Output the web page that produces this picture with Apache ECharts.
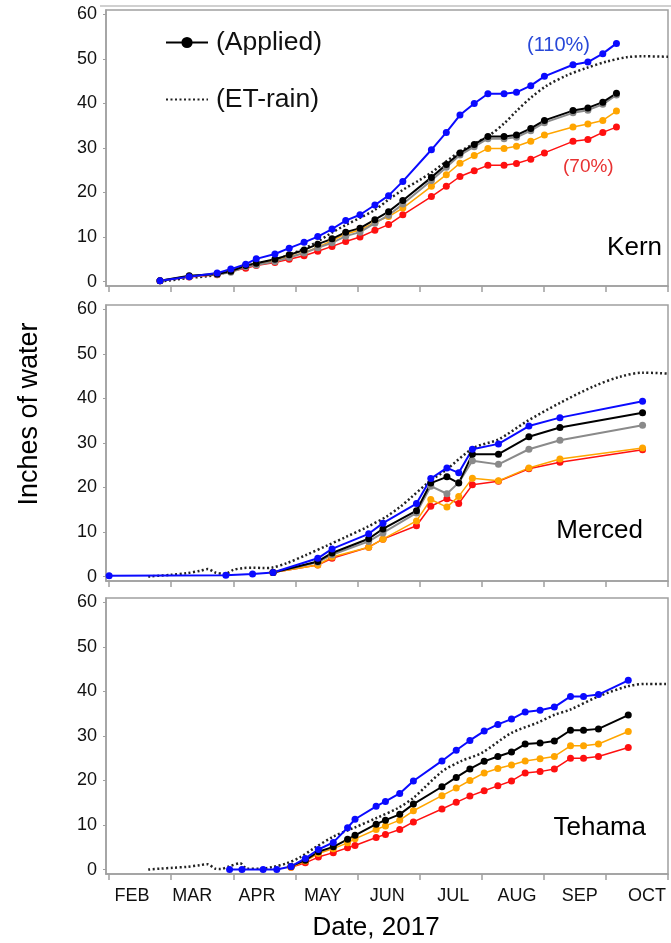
<!DOCTYPE html>
<html>
<head>
<meta charset="utf-8">
<script src="https://cdn.jsdelivr.net/npm/echarts@6/dist/echarts.min.js"></script>
<style>
html,body{margin:0;padding:0;background:#fff;}
#main{width:671px;height:943px;}
</style>
</head>
<body>
<div id="main"></div>
<script>
// 月份 (x = months since Feb 1)
var monthNames = ['FEB','MAR','APR','MAY','JUN','JUL','AUG','SEP','OCT'];
var monthTicks = [0,1,2,3,4,5,6,7,8,9];
var monthLabelPos = [0.37,1.34,2.38,3.44,4.48,5.54,6.57,7.58,8.66];
var yTicks = [0,10,20,30,40,50,60];

// Kern
var kernX = [0.82,1.29,1.74,1.96,2.2,2.37,2.67,2.9,3.14,3.36,3.59,3.81,4.04,4.28,4.5,4.73,5.19,5.43,5.65,5.88,6.1,6.36,6.56,6.79,7.01,7.47,7.71,7.95,8.17];
var kernBlue   = [0.2,1.1,1.9,2.8,3.9,5.1,6.2,7.5,8.8,10.1,11.8,13.7,15.0,17.2,19.3,22.5,29.6,33.5,37.4,40.0,42.2,42.2,42.5,44.0,46.1,48.7,49.3,51.2,53.5];
var kernBlack  = [0.2,1.3,1.7,2.3,3.6,4.1,5.0,6.0,7.1,8.4,9.6,11.1,12.0,13.9,15.7,18.2,23.4,26.3,28.9,30.8,32.6,32.6,32.9,34.4,36.2,38.4,39.0,40.3,42.3];
var kernGray   = [0.2,1.2,1.6,2.1,3.3,3.7,4.5,5.4,6.4,7.6,8.7,10.2,11.1,13.1,14.9,17.4,22.7,25.7,28.4,30.3,32.1,32.1,32.4,33.9,35.7,37.9,38.5,39.8,41.9];
var kernOrange = [0.2,1.1,1.7,2.3,3.6,4.0,4.7,5.6,6.5,7.7,9.2,10.7,11.6,13.3,14.6,16.5,21.4,24.0,26.6,28.3,29.9,29.9,30.4,31.5,32.9,34.7,35.4,36.2,38.3];
var kernRed    = [0.2,1.0,1.5,2.3,3.0,3.6,4.3,5.0,5.8,6.8,7.9,9.0,10.0,11.5,12.8,15.0,19.1,21.4,23.6,24.9,26.1,26.1,26.5,27.5,28.9,31.5,31.9,33.5,34.7];
var kernEtX = [0.82,1.29,1.74,1.96,2.37,2.67,2.9,3.14,3.36,3.59,3.81,4.04,4.28,4.5,4.73,5.0,5.19,5.43,5.65,5.88,6.1,6.36,6.56,6.79,7.05,7.37,7.69,8.01,8.34,8.6,9.0];
var kernEt  = [0.0,0.8,1.5,2.5,4.0,4.9,6.0,7.4,9.0,11.0,12.7,14.3,16.1,18.4,20.6,22.8,24.5,27.0,29.2,31.0,32.6,35.5,38.3,41.3,44.0,46.3,48.0,49.4,50.4,50.6,50.5];

// Merced
var mercedBlueX = [0.0,1.88,2.31,2.64,3.36,3.59,4.18,4.41,4.95,5.18,5.44,5.63,5.85,6.27,6.76,7.26,8.59];
var mercedBlue  = [0.2,0.3,0.6,0.9,4.1,6.2,9.6,12.0,16.4,22.0,24.4,23.3,28.6,29.8,33.8,35.7,39.4];
var mercedX = [2.64,3.36,3.59,4.18,4.41,4.95,5.18,5.44,5.63,5.85,6.27,6.76,7.26,8.59];
var mercedBlack  = [0.9,3.4,5.3,8.5,10.7,14.8,21.0,22.4,21.0,27.5,27.5,31.4,33.5,36.8];
var mercedGray   = [0.9,3.2,4.9,7.9,9.8,14.3,20.3,18.6,21.1,26.0,25.2,28.6,30.6,34.0];
var mercedOrange = [0.9,2.6,4.4,6.6,8.4,12.5,17.3,15.6,18.0,22.1,21.5,24.4,26.4,28.9];
var mercedRed    = [0.9,2.6,4.1,6.6,8.4,11.4,15.8,17.5,16.4,20.6,21.4,24.2,25.7,28.5];
var mercedEtX = [0.63,1.0,1.25,1.47,1.59,1.71,1.87,2.0,2.16,2.32,2.48,2.62,2.86,3.18,3.5,3.83,4.15,4.47,4.69,4.85,5.13,5.43,5.87,6.27,6.73,7.26,7.8,8.23,8.6,9.0];
var mercedEt  = [0.0,0.4,0.75,1.3,1.7,0.9,0.6,1.5,1.9,2.0,1.9,2.0,3.0,4.9,6.9,9.0,11.1,13.5,15.7,17.6,21.0,24.0,28.9,30.8,34.9,39.0,42.7,44.9,45.8,45.6];

// Tehama
var tehamaBlueX = [1.94,2.14,2.48,2.7,2.93,3.16,3.37,3.61,3.84,3.96,4.3,4.45,4.68,4.9,5.36,5.59,5.81,6.04,6.26,6.48,6.7,6.94,7.17,7.43,7.64,7.88,8.36];
var tehamaBlue  = [0.0,0.0,0.0,0.0,0.7,2.5,4.5,6.1,9.4,11.3,14.2,15.3,17.1,19.9,24.4,26.8,29.0,31.1,32.6,33.8,35.4,35.8,36.5,38.9,38.9,39.3,42.5];
var tehamaX = [2.93,3.16,3.37,3.61,3.84,3.96,4.3,4.45,4.68,4.9,5.36,5.59,5.81,6.04,6.26,6.48,6.7,6.94,7.17,7.43,7.64,7.88,8.36];
var tehamaBlack  = [0.7,2.1,4.0,5.1,6.8,7.7,10.2,11.1,12.4,14.7,18.6,20.7,22.6,24.3,25.4,26.4,28.2,28.4,28.9,31.3,31.3,31.6,34.7];
var tehamaOrange = [0.5,1.9,3.6,4.7,6.0,6.9,9.0,9.8,11.1,13.2,16.6,18.3,20.0,21.7,22.7,23.5,24.4,24.9,25.4,27.8,27.8,28.2,31.0];
var tehamaRed    = [0.5,1.5,2.8,3.8,4.9,5.4,7.2,7.9,9.0,10.7,13.6,15.1,16.5,17.7,18.8,19.9,21.7,22.0,22.6,25.0,25.0,25.4,27.4];
var tehamaEtX = [0.63,0.82,1.03,1.25,1.47,1.58,1.71,1.79,1.93,2.11,2.22,2.43,2.64,2.86,3.08,3.29,3.61,3.93,4.31,4.65,4.9,5.36,5.66,6.0,6.48,6.9,7.18,7.42,7.88,8.36,8.65,9.0];
var tehamaEt  = [0.0,0.2,0.4,0.6,1.0,1.2,0.2,0.1,0.7,1.4,0.2,0.2,0.6,1.4,2.8,4.7,7.4,9.3,11.6,13.8,16.1,22.0,24.3,26.2,30.7,33.0,34.8,35.9,38.9,41.2,41.7,41.7];

var FONT = "'Liberation Sans', Arial, sans-serif";
var AXIS_GREY = '#a0a0a0';
var C_BLUE = '#0a0aff', C_BLACK = '#000000', C_GRAY = '#8a8a8a', C_ORANGE = '#ffa500', C_RED = '#ff1010';

function zip(xs, ys) {
    var out = [];
    for (var i = 0; i < xs.length; i++) out.push([xs[i], ys[i]]);
    return out;
}

var gridTops = [10, 305, 598];

function lineSeries(name, idx, xs, ys, color, width) {
    return {
        name: name, type: 'line', xAxisIndex: idx, yAxisIndex: idx,
        data: zip(xs, ys),
        symbol: 'circle', symbolSize: 7, showSymbol: true,
        lineStyle: {color: color, width: width},
        itemStyle: {color: color},
        animation: false, z: 3
    };
}
function etSeries(name, idx, xs, ys) {
    return {
        name: name, type: 'line', xAxisIndex: idx, yAxisIndex: idx,
        data: zip(xs, ys), symbol: 'none', showSymbol: false,
        smooth: 0.3,
        lineStyle: {color: '#222', width: 2.5, type: [2, 2.5]},
        itemStyle: {color: '#222'},
        animation: false, z: 2
    };
}

var grids = [], xAxes = [], yAxes = [];
for (var i = 0; i < 3; i++) {
    grids.push({left: 106, right: 3, top: gridTops[i], height: 276, show: true, borderColor: AXIS_GREY, borderWidth: 1.5});
    xAxes.push({
        gridIndex: i, type: 'value', min: -0.05, max: 9,
        axisLine: {show: true, onZero: false, lineStyle: {color: AXIS_GREY, width: 1.5}},
        axisTick: {show: true, customValues: monthTicks, length: 6, lineStyle: {color: AXIS_GREY, width: 1.5}},
        axisLabel: {
            show: i === 2, customValues: monthLabelPos, margin: 13,
            fontSize: 18, color: '#111', fontFamily: FONT,
            formatter: function (v) { return monthNames[Math.floor(v)]; }
        },
        splitLine: {show: false}
    });
    yAxes.push({
        gridIndex: i, type: 'value', min: -1, max: 61,
        axisLine: {show: true, onZero: false, lineStyle: {color: AXIS_GREY, width: 1.5}},
        axisTick: {show: true, customValues: yTicks, length: 3, lineStyle: {color: AXIS_GREY}},
        axisLabel: {customValues: yTicks, margin: 9, fontSize: 18, color: '#111', fontFamily: FONT},
        splitLine: {show: false}
    });
}

var series = [
    etSeries('(ET-rain)', 0, kernEtX, kernEt),
    lineSeries('Kern 70%', 0, kernX, kernRed, C_RED, 1.5),
    lineSeries('Kern 80%', 0, kernX, kernOrange, C_ORANGE, 1.5),
    lineSeries('Kern 90%', 0, kernX, kernGray, C_GRAY, 2),
    lineSeries('(Applied)', 0, kernX, kernBlack, C_BLACK, 2),
    lineSeries('Kern 110%', 0, kernX, kernBlue, C_BLUE, 2),

    etSeries('Merced ET', 1, mercedEtX, mercedEt),
    lineSeries('Merced 70%', 1, mercedX, mercedRed, C_RED, 1.5),
    lineSeries('Merced 80%', 1, mercedX, mercedOrange, C_ORANGE, 1.5),
    lineSeries('Merced 90%', 1, mercedX, mercedGray, C_GRAY, 2),
    lineSeries('Merced 100%', 1, mercedX, mercedBlack, C_BLACK, 2),
    lineSeries('Merced 110%', 1, mercedBlueX, mercedBlue, C_BLUE, 2),

    etSeries('Tehama ET', 2, tehamaEtX, tehamaEt),
    lineSeries('Tehama 70%', 2, tehamaX, tehamaRed, C_RED, 1.5),
    lineSeries('Tehama 80%', 2, tehamaX, tehamaOrange, C_ORANGE, 1.5),
    lineSeries('Tehama 100%', 2, tehamaX, tehamaBlack, C_BLACK, 2),
    lineSeries('Tehama 110%', 2, tehamaBlueX, tehamaBlue, C_BLUE, 2)
];

function txt(s, x, y, size, color, align, rot) {
    return {
        type: 'text', x: x, y: y, rotation: rot || 0,
        style: {text: s, fontSize: size, fill: color, fontFamily: FONT, align: align || 'left', verticalAlign: 'middle'}
    };
}

var option = {
    backgroundColor: '#fff',
    animation: false,
    grid: grids,
    xAxis: xAxes,
    yAxis: yAxes,
    legend: {
        data: [
            {name: '(Applied)'},
            {name: '(ET-rain)', itemStyle: {opacity: 0}}
        ],
        orient: 'vertical', left: 160, top: 24,
        itemWidth: 42, itemHeight: 14, itemGap: 30,
        textStyle: {fontSize: 26.5, color: '#111', fontFamily: FONT, padding: [0, 0, 0, 3]},
        selectedMode: false
    },
    graphic: [
        {type: 'line', shape: {x1: 100, y1: 6, x2: 671, y2: 6}, style: {stroke: '#d0d0d0', lineWidth: 2}},
        txt('(110%)', 527, 45, 20, '#2848d8'),
        txt('(70%)', 563, 167, 19, '#e83232'),
        txt('Kern', 662, 248, 26, '#000', 'right'),
        txt('Merced', 643, 531, 26, '#000', 'right'),
        txt('Tehama', 646, 828, 26, '#000', 'right'),
        txt('Date, 2017', 376, 928, 26, '#000', 'center'),
        txt('Inches of water', 30, 414, 27, '#000', 'center', Math.PI / 2)
    ],
    series: series
};

var myChart = echarts.init(document.getElementById('main'));
myChart.setOption(option);
</script>
</body>
</html>
